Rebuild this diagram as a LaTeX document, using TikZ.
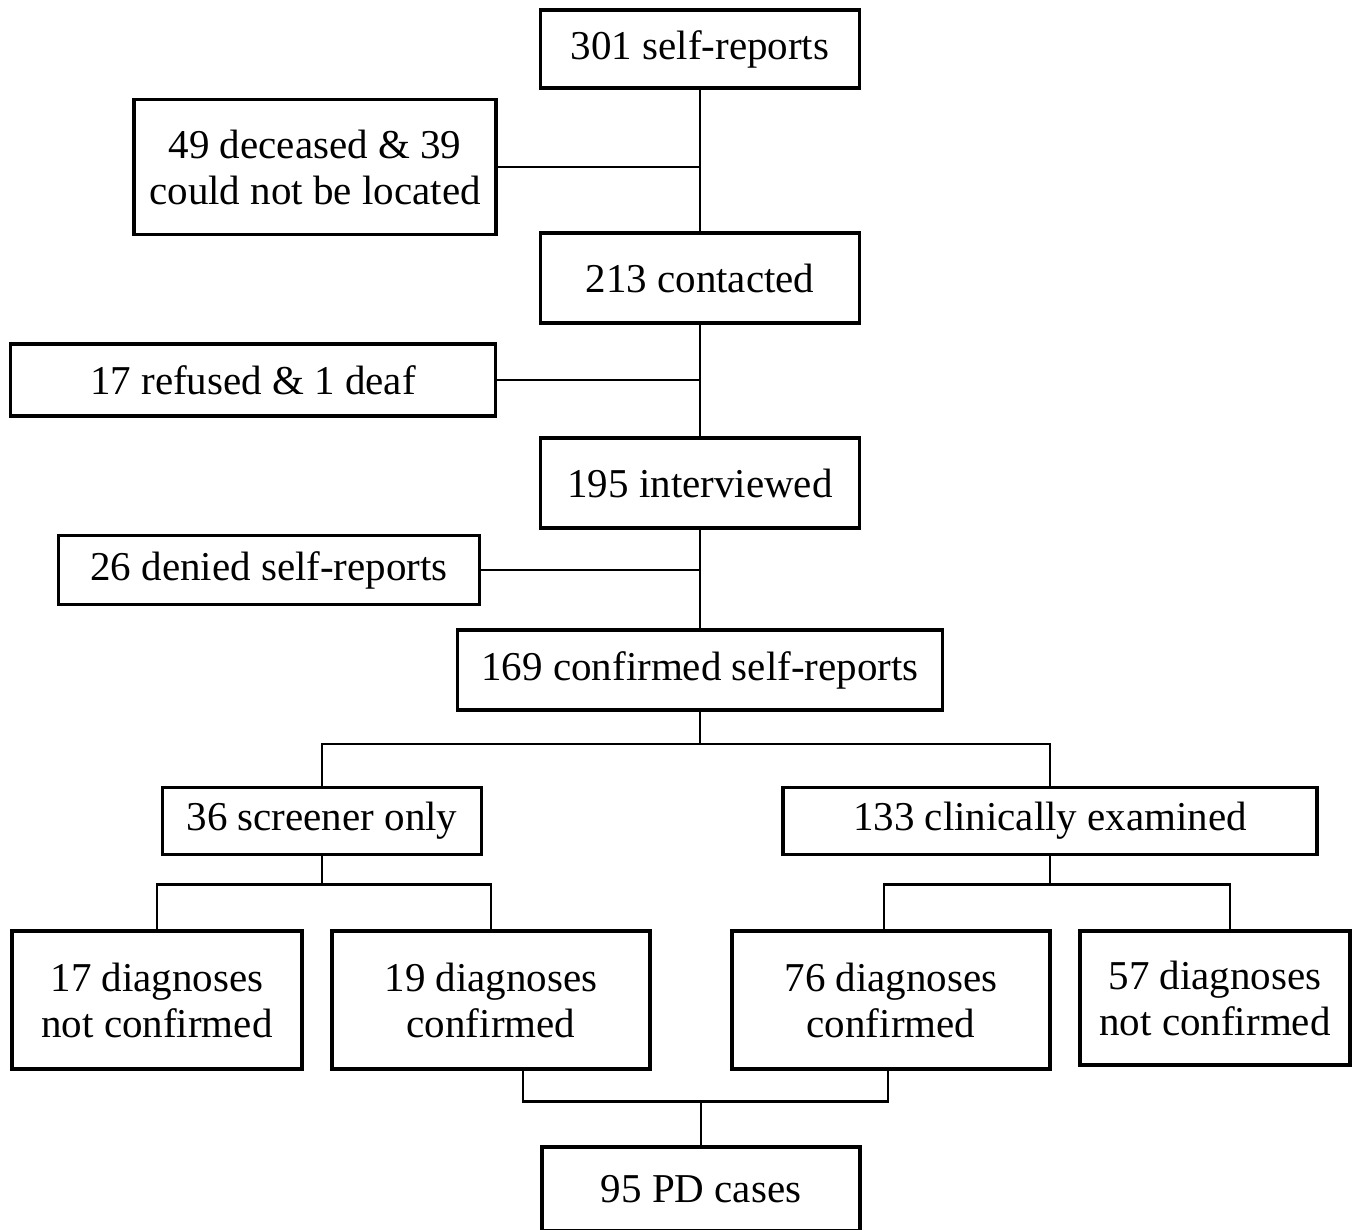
\documentclass[tikz,border=0pt]{standalone}
\usepackage{fontspec}
\setmainfont{Liberation Serif}
\usetikzlibrary{positioning, calc}

\begin{document}
\begin{tikzpicture}[x=1pt, y=-1pt, font=\fontsize{41}{46}\selectfont]

    % Custom styles for the boxes and the connecting lines
    \tikzset{
        flowbox/.style={draw, line width=3.5pt, align=center, inner sep=0pt},
        link/.style={draw, line width=2.5pt}
    }

    \useasboundingbox (0,0) rectangle (1354,1230);

    % ==========================================
    % Main column: self-reports down to confirmed
    % ==========================================
    \node[flowbox, minimum width=319pt, minimum height=78pt] (selfrep) at (700,49) {301 self-reports};
    \node[flowbox, minimum width=362pt, minimum height=135pt] (deceased) at (315,167) {49 deceased \& 39\\could not be located};
    \node[flowbox, minimum width=319pt, minimum height=90pt] (contacted) at (700,278) {213 contacted};
    \node[flowbox, minimum width=485pt, minimum height=72pt] (refused) at (253,380) {17 refused \& 1 deaf};
    \node[flowbox, minimum width=319pt, minimum height=90pt] (interviewed) at (700,483) {195 interviewed};
    \node[flowbox, minimum width=421pt, minimum height=69pt] (denied) at (269,570) {26 denied self-reports};
    \node[flowbox, minimum width=485pt, minimum height=80pt] (confirmed) at (700,670) {169 confirmed self-reports};

    \draw[link] (selfrep) -- (contacted);
    \draw[link] (deceased.east) -- (deceased.east -| selfrep.south);
    \draw[link] (contacted) -- (interviewed);
    \draw[link] (refused.east) -- (refused.east -| contacted.south);
    \draw[link] (interviewed) -- (confirmed);
    \draw[link] (denied.east) -- (denied.east -| interviewed.south);

    % ==========================================
    % Split: screener only / clinically examined
    % ==========================================
    \node[flowbox, minimum width=319pt, minimum height=67pt] (screener) at (322,821) {36 screener only};
    \node[flowbox, minimum width=534pt, minimum height=67pt] (clinical) at (1050,821) {133 clinically examined};

    \draw[link] (confirmed.south) -- ++(0,32) coordinate (splitA);
    \draw[link] (screener.north) |- (splitA) -| (clinical.north);

    % ==========================================
    % Diagnoses
    % ==========================================
    \node[flowbox, minimum width=290pt, minimum height=138pt] (notconfA) at (157,1000) {17 diagnoses\\not confirmed};
    \node[flowbox, minimum width=318pt, minimum height=138pt] (confA) at (491,1000) {19 diagnoses\\confirmed};
    \node[flowbox, minimum width=318pt, minimum height=138pt] (confB) at (891,1000) {76 diagnoses\\confirmed};
    \node[flowbox, minimum width=270pt, minimum height=134pt] (notconfB) at (1215,998) {57 diagnoses\\not confirmed};

    \draw[link] (screener.south) -- ++(0,28) coordinate (splitB);
    \draw[link] (notconfA.north) |- (splitB) -| (confA.north);
    \draw[link] (clinical.south) -- ++(0,28) coordinate (splitC);
    \draw[link] ([xshift=-7pt]confB.north) |- (splitC) -| ([xshift=15pt]notconfB.north);

    % ==========================================
    % Final count
    % ==========================================
    \node[flowbox, minimum width=318pt, minimum height=84pt] (pdcases) at (701,1189) {95 PD cases};

    \draw[link] (pdcases.north) -- ++(0,-44) coordinate (joinD);
    \draw[link] ([xshift=32pt]confA.south) |- (joinD) -| ([xshift=-3pt]confB.south);

\end{tikzpicture}
\end{document}
